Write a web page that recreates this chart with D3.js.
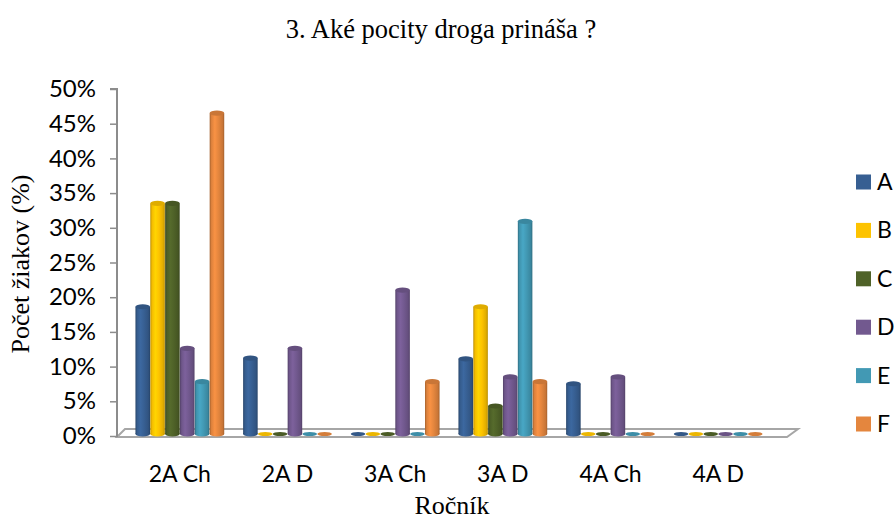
<!DOCTYPE html>
<html><head><meta charset="utf-8">
<script src="https://cdn.jsdelivr.net/npm/d3@7"></script>
<style>body{margin:0;background:#fff}svg{display:block}</style>
</head><body><svg id="c" width="894" height="522"></svg>
<script>
const categories = ["2A Ch", "2A D", "3A Ch", "3A D", "4A Ch", "4A D"];
const series = ["A", "B", "C", "D", "E", "F"];
const valuesA = [19.0, 11.6, 0, 11.5, 7.9, 0];
const valuesB = [33.9, 0, 0, 19.0, 0, 0];
const valuesC = [33.9, 0, 0, 4.7, 0, 0];
const valuesD = [13.0, 13.0, 21.4, 8.9, 8.9, 0];
const valuesE = [8.2, 0, 0, 31.3, 0, 0];
const valuesF = [46.9, 0, 8.2, 8.2, 0, 0];
const yTicks = [0, 5, 10, 15, 20, 25, 30, 35, 40, 45, 50];
const seriesColors = ["#375f92", "#fdc300", "#4f6228", "#72598f", "#4299b4", "#e4863e"];
const title = "3. Aké pocity droga prináša ?";
const xTitle = "Ročník";
const yTitle = "Počet žiakov (%)";

const values = [valuesA, valuesB, valuesC, valuesD, valuesE, valuesF];
const svg = d3.select("#c");
const sans = "Lato, 'Open Sans', sans-serif";
const serif = "'Liberation Serif', 'Times New Roman', serif";

const y = d3.scaleLinear().domain([0, 50]).range([436, 89]);
const x0 = d3.scaleBand().domain(categories).range([126, 772]).paddingInner(0.17).paddingOuter(0.085);
const x1 = d3.scaleBand().domain(series).range([0, x0.bandwidth()]).padding(0.02);
const color = d3.scaleOrdinal().domain(series).range(seriesColors);

// gradients
const defs = svg.append("defs");
series.forEach((s, i) => {
  const c = d3.color(seriesColors[i]);
  const g = defs.append("linearGradient").attr("id", "g" + i).attr("x1", 0).attr("x2", 1).attr("y1", 0).attr("y2", 0);
  [[0, c.darker(0.9)], [0.12, c.darker(0.1)], [0.35, c.brighter(0.25)], [0.6, c], [0.88, c.darker(0.35)], [1, c.darker(0.9)]]
    .forEach(([o, col]) => g.append("stop").attr("offset", o).attr("stop-color", col.formatHex()));
});

// floor
svg.append("polygon")
  .attr("points", "117,437 125,429 798,429 787,437")
  .attr("fill", "#fff").attr("stroke", "#a6a6a6").attr("stroke-width", 2);

// y axis
const axisG = svg.append("g").attr("transform", "translate(117,0)");
axisG.call(d3.axisLeft(y).tickValues(yTicks).tickSize(7).tickPadding(14).tickFormat(d => d + "%"));
axisG.select(".domain").attr("stroke", "#8c8c8c").attr("stroke-width", 2).attr("d", "M-7,89H0V437");
axisG.selectAll(".tick line").attr("stroke", "#8c8c8c").attr("stroke-width", 1.5);
axisG.selectAll(".tick text").attr("font-family", sans).attr("font-size", 24).attr("fill", "#000");

// bars
const ry = 2.6;
const base = 434;
categories.forEach((cat, ci) => {
  const g = svg.append("g").attr("transform", `translate(${x0(cat)},0)`);
  series.forEach((s, si) => {
    const v = values[si][ci];
    const bx = x1(s), bw = x1.bandwidth();
    const cx = bx + bw / 2;
    const top = y(v) + ry;
    if (v > 0) {
      g.append("ellipse").attr("cx", cx).attr("cy", base).attr("rx", bw / 2).attr("ry", ry).attr("fill", `url(#g${si})`);
      g.append("rect").attr("x", bx).attr("y", top).attr("width", bw).attr("height", base - top).attr("fill", `url(#g${si})`);
      g.append("ellipse").attr("cx", cx).attr("cy", top).attr("rx", bw / 2).attr("ry", ry)
        .attr("fill", d3.color(seriesColors[si]).darker(0.35).formatHex());
    } else {
      g.append("ellipse").attr("cx", cx).attr("cy", base).attr("rx", bw / 2).attr("ry", ry - 0.6)
        .attr("fill", d3.color(seriesColors[si]).darker(0.2).formatHex());
    }
  });
});

// category labels
svg.append("g").selectAll("text").data(categories).join("text")
  .attr("x", d => x0(d) + x0.bandwidth() / 2).attr("y", 482)
  .attr("text-anchor", "middle").attr("font-family", sans).attr("font-size", 23).text(d => d);

// titles
svg.append("text").attr("x", 441).attr("y", 38).attr("text-anchor", "middle")
  .attr("font-family", serif).attr("font-size", 26.5).text(title);
svg.append("text").attr("x", 452).attr("y", 514).attr("text-anchor", "middle")
  .attr("font-family", serif).attr("font-size", 26).text(xTitle);
svg.append("text").attr("transform", "translate(29,264) rotate(-90)").attr("text-anchor", "middle")
  .attr("font-family", serif).attr("font-size", 26).text(yTitle);

// legend
const leg = svg.append("g").selectAll("g").data(series).join("g")
  .attr("transform", (d, i) => `translate(856,${182 + i * 48.4})`);
leg.append("rect").attr("x", 0).attr("y", -7.5).attr("width", 15).attr("height", 15).attr("fill", d => color(d));
leg.append("text").attr("x", 21).attr("y", 8).attr("font-family", sans).attr("font-size", 23).text(d => d);
</script></body></html>
